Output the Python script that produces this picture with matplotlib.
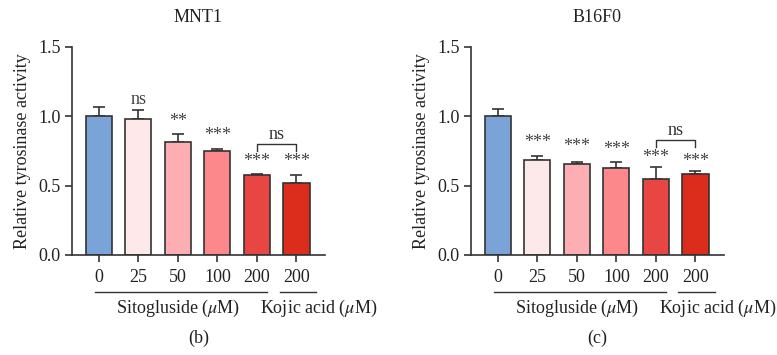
import matplotlib

matplotlib.use("Agg")
import matplotlib.pyplot as plt
import matplotlib.transforms as mtransforms

plt.rcParams["font.family"] = ["Liberation Serif", "DejaVu Serif"]
plt.rcParams["mathtext.fontset"] = "stix"

doses = ["0", "25", "50", "100", "200", "200"]
colors = ["#7aa4d7", "#fde8ea", "#fdaeb2", "#fd888b", "#e84642", "#dc2c1b"]

titles = ["MNT1", "B16F0"]
panel_tags = ["(b)", "(c)"]

mnt1_mean = [1.00, 0.977, 0.811, 0.751, 0.574, 0.516]
mnt1_err = [0.063, 0.065, 0.060, 0.014, 0.011, 0.060]
mnt1_marks = ["", "ns", "**", "***", "***", "***"]
mnt1_mark_y = [0, 1.12, 0.96, 0.86, 0.675, 0.675]

b16_mean = [1.00, 0.686, 0.655, 0.624, 0.547, 0.583]
b16_err = [0.050, 0.029, 0.017, 0.048, 0.084, 0.024]
b16_marks = ["", "***", "***", "***", "***", "***"]
b16_mark_y = [0, 0.81, 0.78, 0.76, 0.70, 0.675]

bracket_y = [0.80, 0.828]

means = [mnt1_mean, b16_mean]
errs = [mnt1_err, b16_err]
marks = [mnt1_marks, b16_marks]
mark_ys = [mnt1_mark_y, b16_mark_y]

fs = 13
fig = plt.figure(figsize=(7.77, 3.55), dpi=100)
lefts = [0.0927, 0.6062]
ink = "#333333"
txt = "#222222"

for i in range(2):
    ax = fig.add_axes([lefts[i], 0.2817, 0.3250, 0.5868])
    x = list(range(len(doses)))
    ax.bar(x, means[i], width=0.66, color=colors, edgecolor=ink, linewidth=1.2, zorder=2)
    ax.errorbar(x, means[i], yerr=[[0] * 6, errs[i]], fmt="none", ecolor=ink,
                elinewidth=1.2, capsize=4, capthick=1.2, zorder=1)
    ax.set_xlim(-0.68, 5.71)
    ax.set_ylim(0, 1.5)
    ax.set_yticks([0, 0.5, 1.0, 1.5])
    ax.set_yticklabels(["0.0", "0.5", "1.0", "1.5"])
    ax.set_xticks(x)
    ax.set_xticklabels(doses)
    for side in ["top", "right"]:
        ax.spines[side].set_visible(False)
    for side in ["left", "bottom"]:
        ax.spines[side].set_color(ink)
        ax.spines[side].set_linewidth(1.2)
    ax.tick_params(direction="out", length=5, width=1.2, color=ink, labelsize=fs,
                   labelcolor=txt, pad=3)
    ax.tick_params(axis="x", pad=5)
    ax.set_ylabel("Relative tyrosinase activity", fontsize=fs, color=txt, labelpad=5)
    ax.set_title(titles[i], fontsize=fs, color=txt, pad=18)

    for xi, label, yy in zip(x, marks[i], mark_ys[i]):
        if label:
            ax.text(xi, yy, label, ha="center", va="center", fontsize=fs, color="#444444")

    # bracket between 200 sitogluside and kojic acid
    top = bracket_y[i]
    ax.plot([4, 4, 5, 5], [top - 0.05, top, top, top - 0.05], color=ink, linewidth=1.0)
    ax.text(4.5, top + 0.07, "ns", ha="center", va="center", fontsize=fs, color="#333333")

    trans = mtransforms.blended_transform_factory(ax.transData, ax.transAxes)
    ax.plot([-0.1, 4.25], [-0.176, -0.176], color=ink, linewidth=1.0, transform=trans, clip_on=False)
    ax.plot([4.57, 5.5], [-0.176, -0.176], color=ink, linewidth=1.0, transform=trans, clip_on=False)
    ax.text(2.0, -0.255, r"Sitogluside ($\mu$M)", transform=trans, ha="center", va="center",
            fontsize=fs, color=txt)
    ax.text(5.56, -0.255, r"Kojic acid ($\mu$M)", transform=trans, ha="center", va="center",
            fontsize=fs, color=txt)
    ax.text(0.5, -0.40, panel_tags[i], transform=ax.transAxes, ha="center", va="center",
            fontsize=fs, color=txt)

fig.savefig("out.png", dpi=100)
